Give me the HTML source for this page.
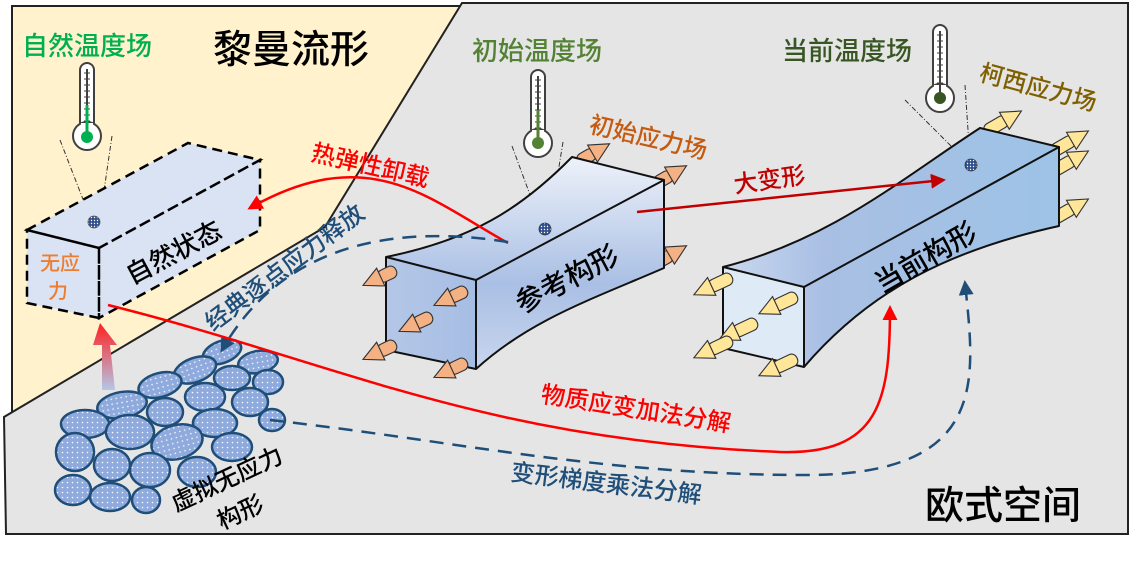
<!DOCTYPE html>
<html><head><meta charset="utf-8"><style>
html,body{margin:0;padding:0;background:#fff;}
svg{display:block;}
text{font-family:"Liberation Sans","Noto Sans CJK SC",sans-serif;font-weight:500;}
</style></head><body>
<svg width="1130" height="568" viewBox="0 0 1130 568" xmlns="http://www.w3.org/2000/svg">
<defs>
<pattern id="dots" width="5" height="5" patternUnits="userSpaceOnUse"><rect width="5" height="5" fill="#8faadc"/><circle cx="2.5" cy="2.5" r="0.8" fill="#fff"/></pattern>
<pattern id="dots2" width="3" height="3" patternUnits="userSpaceOnUse"><rect width="3" height="3" fill="#2f4f8f"/><circle cx="1.5" cy="1.5" r="0.7" fill="#fff"/></pattern>
<linearGradient id="gref" x1="0" y1="0" x2="0" y2="1"><stop offset="0" stop-color="#eef2fa"/><stop offset="0.6" stop-color="#a9bfe4"/><stop offset="1" stop-color="#c9d6ee"/></linearGradient>
<linearGradient id="gref2" x1="0" y1="0" x2="1" y2="0"><stop offset="0" stop-color="#b4c7e7"/><stop offset="1" stop-color="#a6bde3"/></linearGradient>
<linearGradient id="gcur" x1="0" y1="0" x2="1" y2="0"><stop offset="0" stop-color="#c9d8ef"/><stop offset="0.3" stop-color="#a9bfe4"/><stop offset="1" stop-color="#9dc3e6"/></linearGradient>
<linearGradient id="gup" x1="0" y1="1" x2="0" y2="0"><stop offset="0" stop-color="#b4c7e7"/><stop offset="1" stop-color="#ff2020"/></linearGradient>
<g id="aro"><rect x="0" y="-4.5" width="14" height="9" rx="4" fill="#f4b183" stroke="#333" stroke-width="0.8"/><path d="M12,-7 L26,0 L12,7 Z" fill="#f4b183" stroke="#333" stroke-width="0.8"/></g>
<g id="ary"><rect x="0" y="-4.5" width="18" height="9" rx="4" fill="#ffe699" stroke="#333" stroke-width="0.8"/><path d="M16,-7 L30,0 L16,7 Z" fill="#ffe699" stroke="#333" stroke-width="0.8"/></g>
<g id="thermo"><rect x="-7" y="0" width="14" height="66" rx="7" fill="#fff" stroke="#404040" stroke-width="2"/><circle cx="0" cy="73" r="14" fill="#fff" stroke="#404040" stroke-width="2"/><rect x="-6" y="60" width="12" height="8" fill="#fff"/><line x1="0" y1="6" x2="0" y2="70" stroke="#404040" stroke-width="2"/><path d="M-3,10h6M-3,16h6M-3,22h6M-3,28h6M-3,34h6M-3,40h6M-3,46h6M-3,52h6M-3,58h6" stroke="#404040" stroke-width="1"/></g>
<marker id="mr" viewBox="0 0 10 10" refX="8" refY="5" markerWidth="6" markerHeight="6" orient="auto"><path d="M0,0L10,5L0,10z" fill="#ff0000"/></marker>
<marker id="mdr" viewBox="0 0 10 10" refX="8" refY="5" markerWidth="6" markerHeight="6" orient="auto"><path d="M0,0L10,5L0,10z" fill="#c00000"/></marker>
<marker id="mb" viewBox="0 0 10 10" refX="8" refY="5" markerWidth="6" markerHeight="6" orient="auto"><path d="M0,0L10,5L0,10z" fill="#1f4e79"/></marker>
</defs>
<rect width="1130" height="568" fill="#fff"/>
<rect x="12" y="6" width="1115" height="528" fill="#fff2cc" stroke="#222" stroke-width="2"/>
<path d="M462,3 L1128,3 L1128,534 L6,534 L4,417 L325,227 Z" fill="#e5e5e5" stroke="#222" stroke-width="2"/>

<!-- titles -->
<text x="22" y="55" font-size="26" fill="#00b050">自然温度场</text>
<text x="213" y="63" font-size="39" fill="#000">黎曼流形</text>
<text x="472" y="60" font-size="26" fill="#548235">初始温度场</text>
<text x="782" y="60" font-size="26" fill="#375623">当前温度场</text>
<text x="925" y="519" font-size="39" fill="#000">欧式空间</text>
<text transform="translate(978,80) rotate(15)" font-size="24" fill="#7f6000">柯西应力场</text>
<text transform="translate(588,132) rotate(13)" font-size="24" fill="#c55a11">初始应力场</text>
<text transform="translate(310,160) rotate(13)" font-size="24" fill="#ff0000">热弹性卸载</text>
<text transform="translate(735,193) rotate(-8)" font-size="24" fill="#c00000">大变形</text>
<text transform="translate(213,332) rotate(-37)" font-size="24" fill="#1f4e79">经典逐点应力释放</text>
<text transform="translate(540,402) rotate(9)" font-size="24" fill="#ff0000">物质应变加法分解</text>
<text transform="translate(510,480) rotate(7)" font-size="24" fill="#1f4e79">变形梯度乘法分解</text>

<!-- thermometers -->
<use href="#thermo" x="87" y="63"/><circle cx="87" cy="137" r="6" fill="#00b050"/><line x1="87" y1="105" x2="87" y2="135" stroke="#00b050" stroke-width="3"/>
<use href="#thermo" x="538" y="70"/><circle cx="538" cy="143" r="6" fill="#548235"/><line x1="538" y1="110" x2="538" y2="140" stroke="#548235" stroke-width="3"/>
<use href="#thermo" x="940" y="25"/><circle cx="940" cy="98" r="6" fill="#375623"/>
<path d="M60,140 L91,220 M112,136 L100,218" stroke="#333" stroke-width="1" stroke-dasharray="5,2,1,2"/>
<path d="M512,146 L540,222 M563,142 L550,222" stroke="#333" stroke-width="1" stroke-dasharray="5,2,1,2"/>
<path d="M905,100 L965,160 M965,85 L970,160" stroke="#333" stroke-width="1" stroke-dasharray="5,2,1,2"/>

<!-- natural state box -->
<path d="M27,230 L188,143 L260,160 L260,230 L99,318 L27,303 Z" fill="#dae3f3"/>
<path d="M27,230 L188,143 L260,160 L99,248 Z M99,248 L260,160 L260,230 L99,318 Z M27,230 L99,248 L99,318 L27,303 Z" fill="none" stroke="#000" stroke-width="2.5" stroke-dasharray="10,6"/>
<circle cx="94" cy="222" r="6" fill="url(#dots2)" stroke="#555" stroke-width="0.8"/>
<text transform="translate(132,285) rotate(-28)" font-size="26" fill="#000">自然状态</text>
<text x="40" y="270" font-size="20" fill="#ed7d31">无应</text>
<text x="48" y="298" font-size="20" fill="#ed7d31">力</text>

<!-- reference box -->
<use href="#aro" transform="translate(578,162) rotate(-30) scale(1.4)"/>
<use href="#aro" transform="translate(655,184) rotate(-30) scale(1.4)"/>
<use href="#aro" transform="translate(655,264) rotate(-30) scale(1.4)"/>
<path d="M386,257 C470,240 520,210 572,157 L664,180 L664,268 C590,300 530,320 476,369 L386,350 Z" fill="url(#gref)"/>
<path d="M386,257 L476,280 L476,369 L386,350 Z" fill="url(#gref2)"/>
<path d="M386,257 C470,240 520,210 572,157 L664,180 L476,280 Z M476,280 L664,180 L664,268 C590,300 530,320 476,369 Z M386,257 L476,280 L476,369 L386,350 Z" fill="none" stroke="#111" stroke-width="2" stroke-linejoin="round"/>
<circle cx="545" cy="229" r="6" fill="url(#dots2)" stroke="#333" stroke-width="0.8"/>
<text transform="translate(522,314) rotate(-28)" font-size="28" fill="#000">参考构形</text>
<use href="#aro" transform="translate(396,270) rotate(155) scale(1.4)"/>
<use href="#aro" transform="translate(467,290) rotate(155) scale(1.4)"/>
<use href="#aro" transform="translate(432,316) rotate(155) scale(1.4)"/>
<use href="#aro" transform="translate(396,344) rotate(155) scale(1.4)"/>
<use href="#aro" transform="translate(467,362) rotate(155) scale(1.4)"/>

<!-- current box -->
<use href="#ary" transform="translate(985,132) rotate(-30) scale(1.4)"/>
<use href="#ary" transform="translate(1052,152) rotate(-30) scale(1.4)"/>
<use href="#ary" transform="translate(1052,172) rotate(-30) scale(1.4)"/>
<use href="#ary" transform="translate(1052,220) rotate(-30) scale(1.4)"/>
<path d="M723,267 C830,240 900,180 980,128 L1059,147 L1059,226 C950,250 870,290 804,367 L723,348 Z" fill="url(#gcur)"/>
<path d="M723,267 L804,287 L804,367 L723,348 Z" fill="#deebf7"/>
<path d="M723,267 C830,240 900,180 980,128 L1059,147 L804,287 Z M804,287 L1059,147 L1059,226 C950,250 870,290 804,367 Z M723,267 L804,287 L804,367 L723,348 Z" fill="none" stroke="#111" stroke-width="2" stroke-linejoin="round"/>
<circle cx="971" cy="165" r="6" fill="url(#dots2)" stroke="#333" stroke-width="0.8"/>
<text transform="translate(882,294) rotate(-30)" font-size="28" fill="#000">当前构形</text>
<use href="#ary" transform="translate(732,277) rotate(155) scale(1.4)"/>
<use href="#ary" transform="translate(797,296) rotate(155) scale(1.4)"/>
<use href="#ary" transform="translate(757,322) rotate(155) scale(1.4)"/>
<use href="#ary" transform="translate(732,340) rotate(155) scale(1.4)"/>
<use href="#ary" transform="translate(797,358) rotate(155) scale(1.4)"/>

<!-- grains -->
<g fill="url(#dots)" stroke="#1f4e79" stroke-width="2.5">
<ellipse cx="222" cy="352" rx="20" ry="11" transform="rotate(-20 222 352)"/>
<ellipse cx="258" cy="362" rx="20" ry="11" transform="rotate(-10 258 362)"/>
<ellipse cx="195" cy="370" rx="22" ry="12" transform="rotate(-20 195 370)"/>
<ellipse cx="232" cy="378" rx="18" ry="12"/>
<ellipse cx="268" cy="382" rx="15" ry="12"/>
<ellipse cx="160" cy="385" rx="22" ry="12" transform="rotate(-15 160 385)"/>
<ellipse cx="205" cy="397" rx="20" ry="14"/>
<ellipse cx="250" cy="402" rx="18" ry="14"/>
<ellipse cx="272" cy="420" rx="13" ry="11"/>
<ellipse cx="122" cy="405" rx="25" ry="13" transform="rotate(-10 122 405)"/>
<ellipse cx="165" cy="412" rx="18" ry="14"/>
<ellipse cx="215" cy="423" rx="22" ry="14"/>
<ellipse cx="85" cy="424" rx="24" ry="14"/>
<ellipse cx="130" cy="432" rx="24" ry="17"/>
<ellipse cx="177" cy="442" rx="26" ry="17" transform="rotate(-15 177 442)"/>
<ellipse cx="232" cy="447" rx="20" ry="14"/>
<ellipse cx="75" cy="452" rx="19" ry="19"/>
<ellipse cx="112" cy="465" rx="18" ry="16"/>
<ellipse cx="150" cy="470" rx="20" ry="17"/>
<ellipse cx="197" cy="472" rx="19" ry="15"/>
<ellipse cx="73" cy="490" rx="18" ry="15"/>
<ellipse cx="110" cy="497" rx="20" ry="14"/>
<ellipse cx="146" cy="500" rx="14" ry="13"/>
</g>
<text transform="translate(176,512) rotate(-25)" font-size="24" fill="#000">虚拟无应力</text>
<text transform="translate(222,530) rotate(-25)" font-size="24" fill="#000">构形</text>
<path d="M102,390 L102,345 L93,345 L100,323 L117,345 L110,345 L115,390 Z" fill="url(#gup)"/>

<!-- connectors -->
<path d="M508,243 C430,200 370,140 250,208" fill="none" stroke="#ff0000" stroke-width="2.5" marker-end="url(#mr)"/>
<path d="M508,242 C420,228 290,230 222,350" fill="none" stroke="#1f4e79" stroke-width="2.5" stroke-dasharray="14,9" marker-end="url(#mb)"/>
<path d="M637,212 L943,180" fill="none" stroke="#c00000" stroke-width="2.5" marker-end="url(#mdr)"/>
<path d="M108,305 C330,360 480,440 780,452 C880,455 890,400 890,308" fill="none" stroke="#ff0000" stroke-width="2.5" marker-end="url(#mr)"/>
<path d="M270,420 C450,440 600,475 805,475 C990,475 975,380 965,283" fill="none" stroke="#1f4e79" stroke-width="2.5" stroke-dasharray="14,9" marker-end="url(#mb)"/>
</svg>
</body></html>
